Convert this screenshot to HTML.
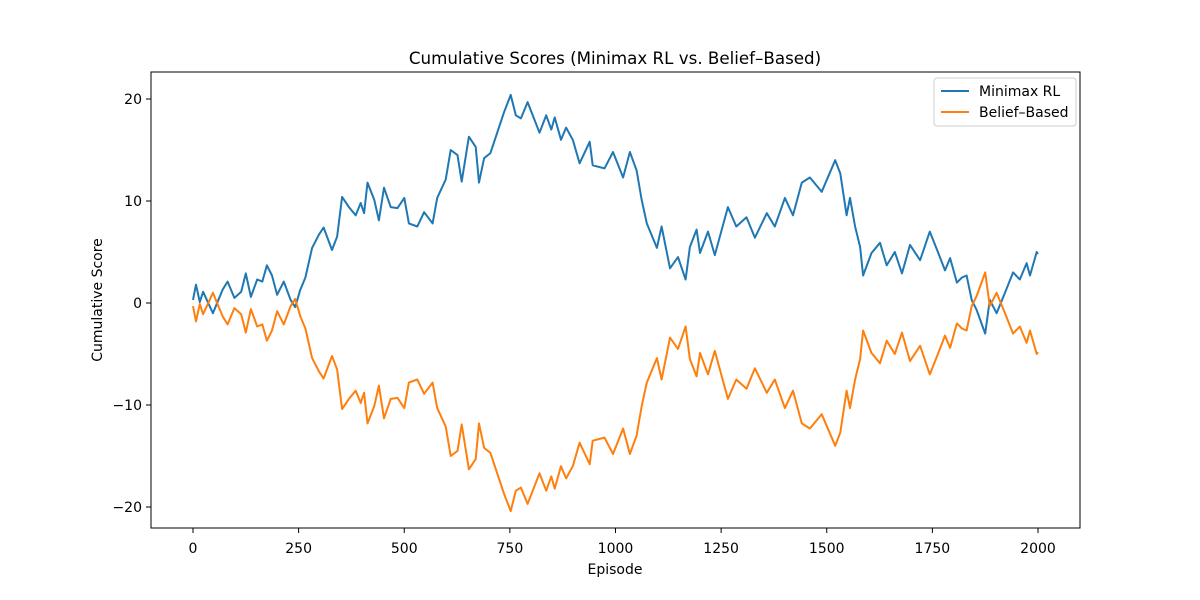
<!DOCTYPE html>
<html><head><meta charset="utf-8"><style>
html,body{margin:0;padding:0;background:#fff;}
svg{display:block;font-family:"DejaVu Sans","Liberation Sans",sans-serif;}
</style></head><body>
<svg id="chart" width="1200" height="600" viewBox="0 0 1200 600">
<rect x="0" y="0" width="1200" height="600" fill="#fff"/>
<text x="615" y="64" text-anchor="middle" font-size="16.7" fill="#000">Cumulative Scores (Minimax RL vs. Belief–Based)</text>
<g id="plot"></g>
<rect x="151" y="72" width="929" height="456" fill="none" stroke="#000" stroke-width="1"/>
<text x="615" y="574" text-anchor="middle" font-size="14">Episode</text>
<text transform="translate(102,300) rotate(-90)" text-anchor="middle" font-size="14">Cumulative Score</text>
<g>
<rect x="934" y="78" width="142" height="48" rx="3" fill="#fff" fill-opacity="0.8" stroke="#ccc"/>
<line x1="941" y1="91" x2="969" y2="91" stroke="#1f77b4" stroke-width="2"/>
<text x="979" y="96" font-size="14">Minimax RL</text>
<line x1="941" y1="112" x2="969" y2="112" stroke="#ff7f0e" stroke-width="2"/>
<text x="979" y="117" font-size="14">Belief–Based</text>
</g>
</svg>
<script>
const episodes=[0,7,16,24,47,70,82,98,114,125,137,152,164,175,187,199,215,231,242,254,266,282,298,309,329,341,353,369,385,397,405,413,429,440,452,468,484,500,511,531,547,567,578,598,610,626,636,653,669,677,689,704,716,736,752,764,776,792,820,836,848,856,871,883,899,915,939,946,974,994,1018,1034,1050,1062,1074,1098,1109,1129,1148,1166,1176,1192,1200,1219,1235,1266,1286,1310,1330,1358,1377,1401,1420,1441,1460,1488,1520,1532,1547,1555,1567,1579,1586,1606,1626,1642,1661,1678,1697,1721,1744,1764,1780,1792,1808,1820,1831,1843,1855,1875,1886,1902,1922,1941,1957,1973,1981,1997,2000];
const minimaxScores=[0.3,1.8,0.1,1.1,-1.0,1.3,2.1,0.5,1.1,2.9,0.6,2.3,2.1,3.7,2.7,0.8,2.1,0.3,-0.4,1.3,2.5,5.4,6.7,7.4,5.2,6.5,10.4,9.4,8.6,9.8,8.8,11.8,10.1,8.1,11.3,9.4,9.3,10.3,7.8,7.5,8.9,7.8,10.3,12.1,15.0,14.5,11.9,16.3,15.3,11.8,14.2,14.7,16.2,18.7,20.4,18.4,18.1,19.7,16.7,18.4,17.0,18.2,16.0,17.2,16.0,13.7,15.8,13.5,13.2,14.8,12.3,14.8,13.0,10.1,7.8,5.4,7.5,3.4,4.5,2.3,5.5,7.2,4.9,7.0,4.7,9.4,7.5,8.4,6.4,8.8,7.5,10.3,8.6,11.8,12.3,10.9,14.0,12.7,8.6,10.3,7.5,5.5,2.7,4.9,5.9,3.7,5.0,2.9,5.7,4.2,7.0,4.9,3.2,4.4,2.0,2.5,2.7,0.3,-0.7,-3.0,0.3,-1.0,1.0,3.0,2.3,3.9,2.7,5.0,4.8];
const beliefScores=[-0.3,-1.8,-0.1,-1.1,1.0,-1.3,-2.1,-0.5,-1.1,-2.9,-0.6,-2.3,-2.1,-3.7,-2.7,-0.8,-2.1,-0.3,0.4,-1.3,-2.5,-5.4,-6.7,-7.4,-5.2,-6.5,-10.4,-9.4,-8.6,-9.8,-8.8,-11.8,-10.1,-8.1,-11.3,-9.4,-9.3,-10.3,-7.8,-7.5,-8.9,-7.8,-10.3,-12.1,-15.0,-14.5,-11.9,-16.3,-15.3,-11.8,-14.2,-14.7,-16.2,-18.7,-20.4,-18.4,-18.1,-19.7,-16.7,-18.4,-17.0,-18.2,-16.0,-17.2,-16.0,-13.7,-15.8,-13.5,-13.2,-14.8,-12.3,-14.8,-13.0,-10.1,-7.8,-5.4,-7.5,-3.4,-4.5,-2.3,-5.5,-7.2,-4.9,-7.0,-4.7,-9.4,-7.5,-8.4,-6.4,-8.8,-7.5,-10.3,-8.6,-11.8,-12.3,-10.9,-14.0,-12.7,-8.6,-10.3,-7.5,-5.5,-2.7,-4.9,-5.9,-3.7,-5.0,-2.9,-5.7,-4.2,-7.0,-4.9,-3.2,-4.4,-2.0,-2.5,-2.7,-0.3,0.7,3.0,-0.3,1.0,-1.0,-3.0,-2.3,-3.9,-2.7,-5.0,-4.8];
const xTicks=[0,250,500,750,1000,1250,1500,1750,2000];
const yTicks=[-20,-10,0,10,20];

const NS='http://www.w3.org/2000/svg';
const plot=document.getElementById('plot');
function xs(v){return 193+(v-0)*(1038-193)/2000;}
function ys(v){return 303-v*(303-99)/20;}
function mk(tag,attrs){const e=document.createElementNS(NS,tag);for(const k in attrs)e.setAttribute(k,attrs[k]);plot.appendChild(e);return e;}

xTicks.forEach(t=>{
  const l=mk('line',{x1:xs(t),x2:xs(t),y1:528,y2:533,stroke:'#000'});
  
  
  const tx=mk('text',{x:xs(t),y:553,'text-anchor':'middle','font-size':14});
  tx.textContent=t;
  
  
});
yTicks.forEach(t=>{
  const l=mk('line',{x1:146,x2:151,y1:ys(t),y2:ys(t),stroke:'#000'});
  
  
  const tx=mk('text',{x:142,y:ys(t)+5,'text-anchor':'end','font-size':14});
  tx.textContent=(t<0?'\u2212'+(-t):t);
  
  
});
function series(vals,color,name){
  const d=episodes.map((e,i)=>(i?'L':'M')+xs(e).toFixed(1)+','+ys(vals[i]).toFixed(1)).join('');
  const p=mk('path',{d:d,fill:'none',stroke:color,'stroke-width':2,'stroke-linejoin':'round'});
  
  
}
series(minimaxScores,'#1f77b4','minimax-rl-line');
series(beliefScores,'#ff7f0e','belief-based-line');
</script>
</body></html>
